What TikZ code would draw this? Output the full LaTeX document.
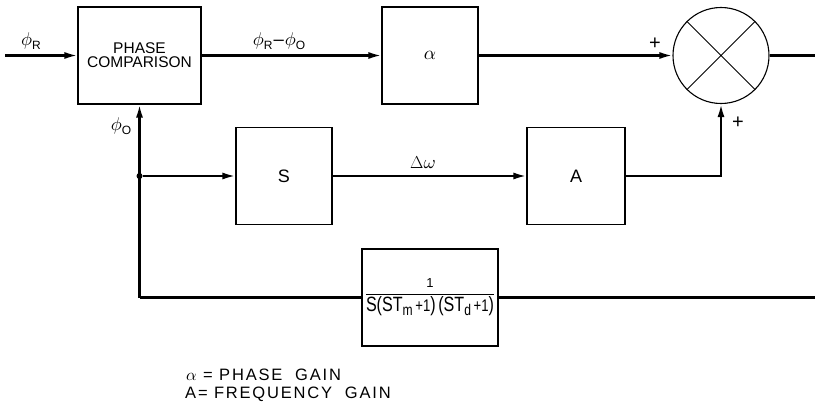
\documentclass[tikz,border=0pt]{standalone}
\usepackage{fontspec}
\setmainfont{Liberation Sans}
\newfontfamily\legf[LetterSpace=11]{Liberation Sans}
\DeclareFontShape{OML}{cmm}{m}{it}{<->cmmi10}{}
\DeclareFontShape{OMS}{cmsy}{m}{n}{<->cmsy10}{}
\usetikzlibrary{arrows.meta}
\newcommand\lsub[1]{\raisebox{-0.35ex}{\fontsize{12}{12}\selectfont #1}}
\newcommand\fsub[1]{\raisebox{-0.45ex}{\fontsize{12}{12}\selectfont #1}}
\newcommand\fpl{{\fontsize{13}{13}\selectfont+1}}
\begin{document}
\begin{tikzpicture}[x=1pt,y=-1pt,
  every node/.style={font=\fontsize{16}{18}\selectfont},
  box/.style={draw,line width=1.1pt,minimum height=97pt,inner sep=0pt},
  conn/.style={line width=2.2pt},
  arr/.style={conn,-{Latex[length=13pt,width=7pt]}},
  lbl/.style={inner sep=1pt,font=\fontsize{18.5}{20}\selectfont}
]
\useasboundingbox (0,0) rectangle (815,404);
% blocks
\node[box,minimum width=123pt,align=center,font=\fontsize{15.5}{14}\selectfont] (pc) at (139.5,55.5) {PHASE\\COMPARISON};
\node[box,minimum width=96pt,font=\fontsize{19}{20}\selectfont] (al) at (430,55.5) {$\alpha$};
\node[box,minimum width=96pt,font=\fontsize{18}{18}\selectfont] (s) at (284,176) {S};
\node[box,minimum width=98pt,font=\fontsize{18}{18}\selectfont] (a) at (576,176) {A};
\node[draw,circle,line width=1.1pt,minimum size=96pt,inner sep=0pt] (sum) at (721,55.5) {};
\draw[line width=0.9pt] (sum.north west) -- (sum.south east) (sum.north east) -- (sum.south west);
\node[box,minimum width=136pt] (fb) at (430,297.5)
  {\raisebox{-0.3ex}{$\displaystyle\frac{\mbox{\fontsize{13}{13}\selectfont 1}}{\resizebox{128pt}{15pt}{\mbox{\fontsize{16}{16}\selectfont S(ST\fsub{m}\,\fpl)\,(ST\fsub{d}\,\fpl)}}}$}};
% junction
\node[circle,fill,inner sep=0pt,minimum size=6pt] (j) at (139.5,176) {};
\coordinate (in) at (5,55.5);
\coordinate (out) at (815,55.5);
\coordinate (fbin) at (815,297.5);
\coordinate (bl) at (139.5,297.5);
% connectors
\draw[arr] (in) -- (pc.west);
\draw[arr] (pc.east) -- (al.west);
\draw[arr] (al.east) -- (sum.west);
\draw[conn] (sum.east) -- (out);
\draw[arr] (bl) -- (pc.south);
\draw[arr] (j) -- (s.west);
\draw[arr] (s.east) -- (a.west);
\draw[arr] (a.east) -| (sum.south);
\draw[conn] (fbin) -- (fb.east);
\draw[conn] (fb.west) -- (bl);
% labels
\node[lbl] (phiR) at (31,41) {$\phi$\lsub{R}};
\node[lbl] (err) at (279,41) {$\phi$\lsub{R}\kern1pt--\kern1pt$\phi$\lsub{O}};
\node[lbl] (phiO) at (121,126) {$\phi$\lsub{O}};
\node[lbl] (dw) at (423,163) {$\Delta\omega$};
\node[lbl,font=\fontsize{20}{20}\selectfont] (p1) at (655,44) {+};
\node[lbl,font=\fontsize{20}{20}\selectfont] (p2) at (738,123) {+};
% legend
\node[anchor=base west,inner sep=0pt,font=\legf\fontsize{16.5}{18}\selectfont] (l1) at (186,380) {$\alpha$ = PHASE\ \ GAIN};
\node[anchor=base west,inner sep=0pt,font=\legf\fontsize{16.5}{18}\selectfont] (l2) at (185,398) {A= FREQUENCY\ \ GAIN};
\end{tikzpicture}
\end{document}
